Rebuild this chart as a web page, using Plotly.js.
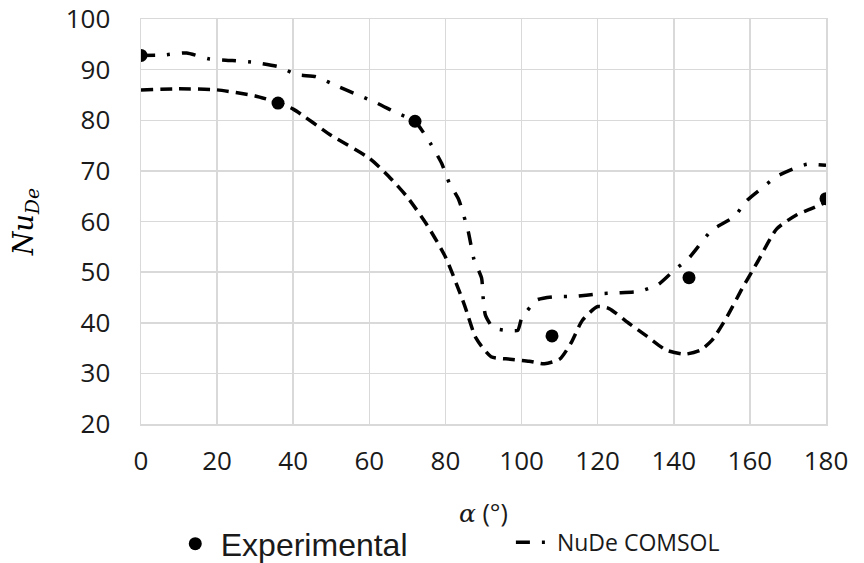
<!DOCTYPE html>
<html>
<head>
<meta charset="utf-8">
<script src="https://cdn.plot.ly/plotly-3.0.1.min.js"></script>
<style>html,body{margin:0;padding:0;background:#fff;}#chart{width:864px;height:563px;}</style>
</head>
<body>
<div id="chart"></div>
<script>
// Experimental points
const expAlpha = [0, 36, 72, 108, 144, 180];
const expNu = [92.8, 83.4, 79.8, 37.4, 48.9, 64.5];

// NuDe COMSOL (dash-dot)
const comsolAlpha = [0, 6, 12, 18, 24, 30, 36, 41, 46, 52, 57, 62, 67, 72, 76, 79, 81, 83.5, 86, 87.5, 89.5, 90, 90.5, 92.5, 96, 99, 100, 104, 108, 114, 120, 125, 131, 136, 140, 144, 150, 156, 159, 163, 167, 172, 175, 180];
const comsolNu = [92.8, 92.9, 93.3, 92.1, 91.8, 91.4, 90.6, 89.0, 88.6, 86.6, 85.0, 83.4, 81.5, 79.8, 75.5, 71.5, 67.6, 64.3, 58.0, 52.5, 48.8, 44.0, 41.5, 39.0, 38.5, 38.5, 40.8, 44.5, 45.1, 45.2, 45.7, 45.9, 46.2, 47.6, 50.3, 52.8, 58.3, 61.0, 64.0, 66.5, 68.9, 70.6, 71.3, 71.1];

// Second model curve (dashed)
const modelAlpha = [0, 10, 20, 30, 36, 40, 50, 60, 65, 70, 75, 80, 85, 88, 92, 97, 102, 106, 110, 113, 116, 120, 123, 128, 133, 138, 143, 147, 150, 154, 158, 162, 167, 172, 176, 180];
const modelNu = [86.0, 86.2, 86.0, 84.8, 83.5, 82.2, 77.0, 72.5, 69.0, 64.8, 59.5, 53.0, 43.5, 37.0, 33.3, 32.8, 32.4, 31.9, 32.8, 36.0, 40.5, 43.2, 42.8, 40.0, 37.3, 34.6, 33.8, 34.6, 36.5, 41.2, 46.8, 52.0, 58.5, 61.2, 62.5, 63.8];

const xTicks = [0, 20, 40, 60, 80, 100, 120, 140, 160, 180];
const yTicks = [20, 30, 40, 50, 60, 70, 80, 90, 100];

const traces = [
  {
    x: modelAlpha, y: modelNu, type: 'scatter', mode: 'lines', name: 'model',
    line: {color: '#000', width: 3.5, dash: '12px,7px', shape: 'spline', smoothing: 0.6},
    showlegend: false, hoverinfo: 'skip'
  },
  {
    x: comsolAlpha, y: comsolNu, type: 'scatter', mode: 'lines', name: 'NuDe COMSOL',
    line: {color: '#000', width: 3.5, dash: '14px,12px,3px,12px', shape: 'spline', smoothing: 0.5},
    legend: 'legend2'
  },
  {
    x: expAlpha, y: expNu, type: 'scatter', mode: 'markers', name: 'Experimental',
    marker: {color: '#000', size: 13, symbol: 'circle'},
    legend: 'legend'
  }
];

const tickFont = {family: 'Open Sans, sans-serif', size: 26, color: '#1a1a1a'};

const layout = {
  width: 864, height: 563,
  margin: {l: 141, r: 38, t: 19, b: 139, autoexpand: false},
  paper_bgcolor: '#fff', plot_bgcolor: '#fff',
  xaxis: {
    range: [0, 180], tickvals: xTicks, ticktext: xTicks.map(String), automargin: false,
    showgrid: true, gridcolor: '#d9d9d9', gridwidth: 1.5,
    showline: true, mirror: true, linecolor: '#d9d9d9', linewidth: 1.5,
    zeroline: false, ticks: '', tickfont: tickFont, ticklabelstandoff: 13,
    title: {text: '<span style="font-family:\'DejaVu Serif\';font-style:italic">α</span> (°)',
            font: {family: 'Open Sans, sans-serif', size: 25, color: '#1a1a1a'}, standoff: 28}
  },
  yaxis: {
    range: [20, 100], tickvals: yTicks, ticktext: yTicks.map(String), automargin: false,
    showgrid: true, gridcolor: '#d9d9d9', gridwidth: 1.5,
    showline: true, mirror: true, linecolor: '#d9d9d9', linewidth: 1.5,
    zeroline: false, ticks: '', tickfont: tickFont, ticklabelstandoff: 24,
    title: {text: '<i>Nu</i><sub><i>De</i></sub>',
            font: {family: 'DejaVu Serif, serif', size: 27, color: '#000'}, standoff: 24}
  },
  legend: {
    x: 0.042, y: -0.296, xanchor: 'left', yanchor: 'middle', orientation: 'h',
    font: {family: 'Liberation Sans, Arial, sans-serif', size: 32, color: '#1a1a1a'},
    bgcolor: 'rgba(0,0,0,0)', itemwidth: 41
  },
  legend2: {
    x: 0.54, y: -0.292, xanchor: 'left', yanchor: 'middle', orientation: 'h',
    font: {family: 'Open Sans, sans-serif', size: 23, color: '#1a1a1a'},
    bgcolor: 'rgba(0,0,0,0)', itemwidth: 36
  },
  showlegend: true
};

Plotly.newPlot('chart', traces, layout, {displayModeBar: false, staticPlot: true});
</script>
</body>
</html>
